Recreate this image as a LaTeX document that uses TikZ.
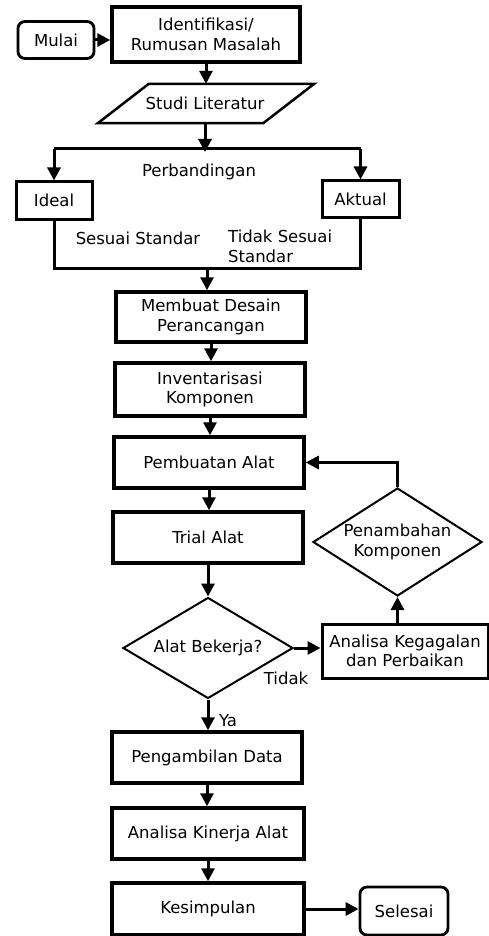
\documentclass[tikz,border=0pt]{standalone}
\usepackage{fontspec}
\setmainfont{DejaVu Sans}
\usetikzlibrary{shapes.geometric,arrows.meta}

\tikzset{
  proses/.style={draw,line width=3.5pt,minimum width=190pt,minimum height=51pt,align=center,inner sep=2pt},
  terminal/.style={draw,line width=2.8pt,rounded corners=7pt,minimum width=76pt,minimum height=37pt},
  keputusan/.style={draw,diamond,line width=2pt,inner sep=0pt,align=center},
  garis/.style={line width=3pt},
  panah/.style={line width=3pt,-{Triangle[length=13pt,width=13pt]}},
  label/.style={inner sep=0pt}
}

\begin{document}
\begin{tikzpicture}[x=1pt,y=-1pt,font=\fontsize{16.5}{19.5}\selectfont]
\useasboundingbox (0,0) rectangle (489,936);

% awal
\node[terminal] (mulai) at (56,40) {Mulai};
\node[proses,minimum width=188pt,minimum height=55pt] (identifikasi) at (206,34.5) {Identifikasi/\\Rumusan Masalah};
\node[minimum width=165pt,minimum height=39pt] (studi) at (205,103.5) {Studi Literatur};
\draw[line width=2.5pt] ([xshift=-24.5pt]studi.south west) -- ([xshift=26.5pt]studi.north west)
  -- ([xshift=26.5pt]studi.north east) -- ([xshift=-24.5pt]studi.south east) -- cycle;

% perbandingan
\coordinate (bagi) at (205,149);
\node[proses,line width=3pt,minimum width=76pt,minimum height=37pt] (ideal) at (54,200.5) {Ideal};
\node[proses,line width=3pt,minimum width=77pt,minimum height=36pt] (aktual) at (360.5,199) {Aktual};
\node[label] (perbandingan) at (199,172) {Perbandingan};
\node[label] (sesuai) at (138,238) {Sesuai Standar};
\node[label,anchor=west,align=left] (tidaksesuai) at (228,246.5) {Tidak Sesuai\\Standar};
\coordinate (gabung) at (207,268);

% perancangan
\node[proses,minimum height=50pt] (desain) at (211,317) {Membuat Desain\\Perancangan};
\node[proses,minimum height=53pt] (inventaris) at (210,389.5) {Inventarisasi\\Komponen};
\node[proses] (pembuatan) at (209,462.5) {Pembuatan Alat};
\node[proses] (trial) at (208,537.5) {Trial Alat};
\node[keputusan,aspect=1.7,minimum width=170pt,minimum height=101pt] (bekerja) at (208,648) {Alat Bekerja?};
\node[proses,line width=3pt,minimum width=166pt,minimum height=54pt] (kegagalan) at (405,651) {Analisa Kegagalan\\dan Perbaikan};
\node[keputusan,aspect=1.56,minimum width=169pt,minimum height=108pt] (penambahan) at (397.5,542) {Penambahan\\Komponen};
\node[label] (tidak) at (286,678) {Tidak};
\node[label] (ya) at (228,721) {Ya};

% akhir
\node[proses] (data) at (207,757.5) {Pengambilan Data};
\node[proses,minimum width=192pt] (kinerja) at (208,833.5) {Analisa Kinerja Alat};
\node[proses,minimum width=192pt,minimum height=52pt] (kesimpulan) at (208,909) {Kesimpulan};
\node[terminal,minimum width=88pt,minimum height=48pt] (selesai) at (404,911) {Selesai};

% alur
\draw[panah] (mulai.east) -- (mulai.east -| identifikasi.west);
\draw[panah] (identifikasi) -- (identifikasi |- studi.north);
\draw[panah] (studi.south) -- ([yshift=-3pt]bagi);
\draw[garis] (ideal.north |- bagi) -- (aktual.north |- bagi);
\draw[panah] (ideal.north |- bagi) -- (ideal.north);
\draw[panah] (aktual.north |- bagi) -- (aktual.north);
\draw[garis] (ideal.south) |- (gabung) -| (aktual.south);
\draw[panah] (gabung) -- (gabung |- desain.north);
\draw[panah] (desain) -- (desain |- inventaris.north);
\draw[panah] (inventaris) -- (inventaris |- pembuatan.north);
\draw[panah] (pembuatan) -- (pembuatan |- trial.north);
\draw[panah] (trial) -- (bekerja);
\draw[panah] (bekerja.east) -- (bekerja.east -| kegagalan.west);
\draw[panah] (penambahan.south |- kegagalan.north) -- (penambahan.south);
\draw[panah] (penambahan.north) |- (pembuatan.east);
\draw[panah] (bekerja) -- (bekerja |- data.north);
\draw[panah] (data) -- (data |- kinerja.north);
\draw[panah] (kinerja) -- (kinerja |- kesimpulan.north);
\draw[panah] (kesimpulan.east) -- (kesimpulan.east -| selesai.west);
\end{tikzpicture}
\end{document}
